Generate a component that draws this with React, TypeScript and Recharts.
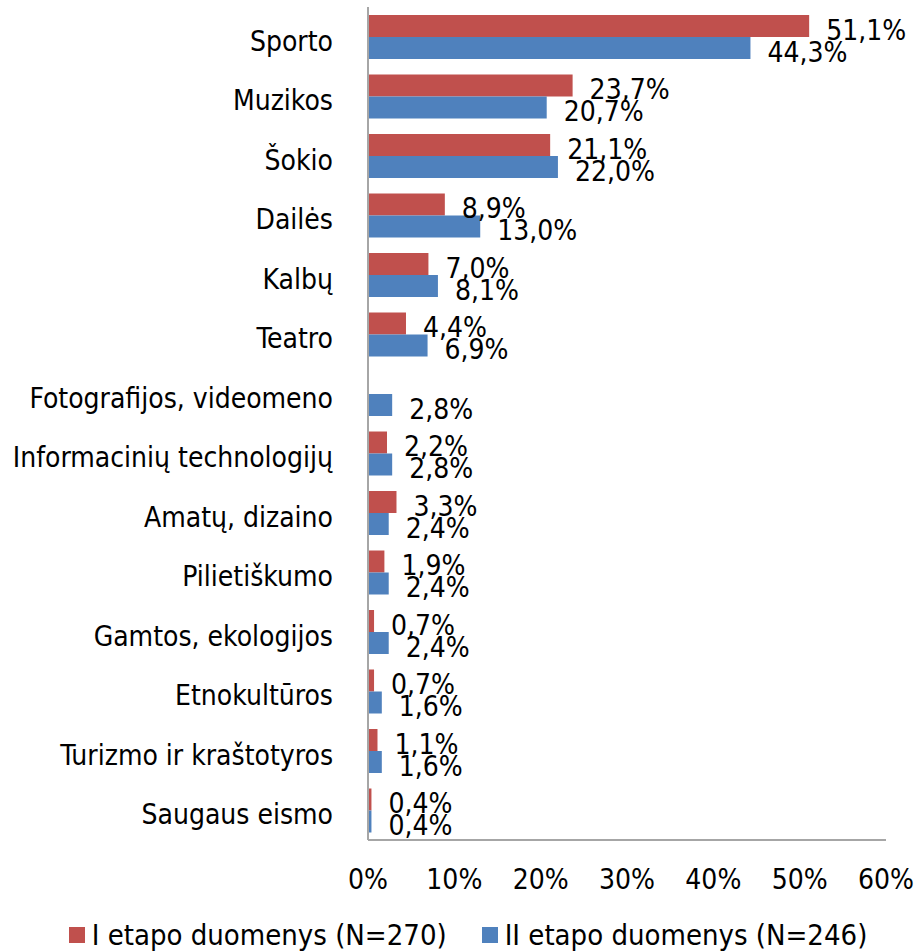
import { BarChart, Bar, XAxis, YAxis, Legend, LabelList } from 'recharts'

const categories = [
  'Sporto',
  'Muzikos',
  'Šokio',
  'Dailės',
  'Kalbų',
  'Teatro',
  'Fotografijos, videomeno',
  'Informacinių technologijų',
  'Amatų, dizaino',
  'Pilietiškumo',
  'Gamtos, ekologijos',
  'Etnokultūros',
  'Turizmo ir kraštotyros',
  'Saugaus eismo',
]

// I etapo duomenys (N=270)
const stage1 = [51.1, 23.7, 21.1, 8.9, 7.0, 4.4, null, 2.2, 3.3, 1.9, 0.7, 0.7, 1.1, 0.4]
// II etapo duomenys (N=246)
const stage2 = [44.3, 20.7, 22.0, 13.0, 8.1, 6.9, 2.8, 2.8, 2.4, 2.4, 2.4, 1.6, 1.6, 0.4]

const xTicks = [0, 10, 20, 30, 40, 50, 60]

const SERIES = [
  { key: 's1', name: 'I etapo duomenys (N=270)', color: '#C0504D' },
  { key: 's2', name: 'II etapo duomenys (N=246)', color: '#4F81BD' },
]

const FONT = "'DejaVu Sans Condensed', 'DejaVu Sans', sans-serif"
const AXIS_COLOR = '#a6a6a6'

const data = categories.map((name, i) => ({ name, s1: stage1[i], s2: stage2[i] }))

const fmt = (v: number) => v.toFixed(1).replace('.', ',') + '%'

const renderValue = (props: any) => {
  const { x, y, width, height, value } = props
  if (value == null) return null
  return (
    <text
      x={x + width + 17}
      y={y + height / 2 + 4}
      dominantBaseline="central"
      fontFamily={FONT}
      fontSize={28}
      fill="#000"
    >
      {fmt(value)}
    </text>
  )
}

const renderLegend = () => (
  <div
    style={{
      display: 'flex',
      justifyContent: 'center',
      gap: 35,
      fontFamily: FONT,
      fontSize: 29,
      color: '#000',
      paddingTop: 21,
      paddingLeft: 50,
    }}
  >
    {SERIES.map((s) => (
      <div key={s.key} style={{ display: 'flex', alignItems: 'center' }}>
        <span style={{ display: 'inline-block', width: 16, height: 16, background: s.color, marginRight: 7 }} />
        <span>{s.name}</span>
      </div>
    ))}
  </div>
)

export default function App() {
  return (
    <div style={{ position: 'absolute', left: 0, top: 0, background: '#fff' }}>
      <BarChart
        width={918}
        height={952}
        data={data}
        layout="vertical"
        margin={{ top: 7, right: 32, bottom: 0, left: 0 }}
        barGap={0}
        barSize={22}
      >
        <XAxis
          type="number"
          domain={[0, 60]}
          ticks={xTicks}
          tickFormatter={(v) => `${v}%`}
          axisLine={{ stroke: AXIS_COLOR, strokeWidth: 2 }}
          tickLine={false}
          tickSize={0}
          tickMargin={29}
          height={57}
          tick={{ fontFamily: FONT, fontSize: 28, fill: '#000' }}
        />
        <YAxis
          type="category"
          dataKey="name"
          width={368}
          axisLine={{ stroke: AXIS_COLOR, strokeWidth: 2 }}
          tickLine={false}
          tickSize={0}
          tickMargin={35}
          interval={0}
          tick={{ fontFamily: FONT, fontSize: 28, fill: '#000', dy: 4 }}
        />
        <Legend verticalAlign="bottom" content={renderLegend} />
        {SERIES.map((s) => (
          <Bar key={s.key} dataKey={s.key} name={s.name} fill={s.color} isAnimationActive={false}>
            <LabelList dataKey={s.key} content={renderValue} />
          </Bar>
        ))}
      </BarChart>
    </div>
  )
}
